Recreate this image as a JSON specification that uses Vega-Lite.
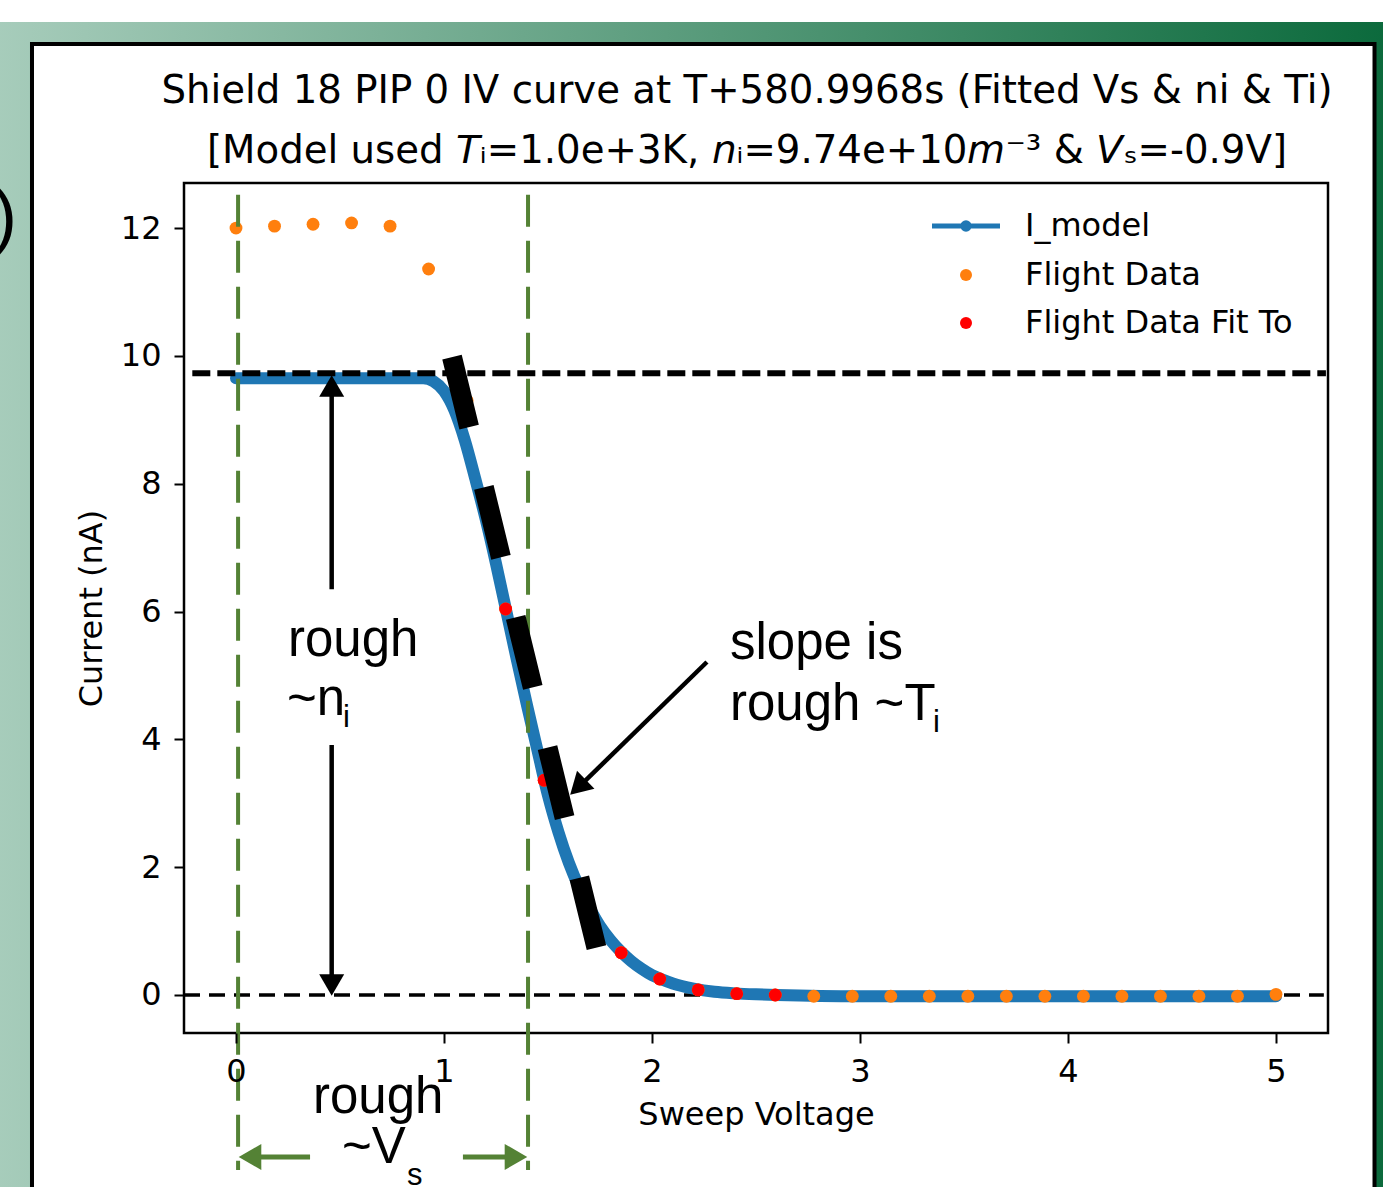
{
  "$schema": "https://vega.github.io/schema/vega-lite/v6.json",
  "width": 1144,
  "height": 850,
  "autosize": {"type": "none"},
  "padding": {"left": 184, "top": 183, "right": 55, "bottom": 154},
  "background": "white",
  "config": {"view": {"stroke": null}, "font": "DejaVu Sans"},
  "title": {
    "text": ["Shield 18 PIP 0 IV curve at T+580.9968s (Fitted Vs & ni & Ti)", "[Model used 𝘛ᵢ=1.0e+3K, 𝘯ᵢ=9.74e+10𝘮⁻³ & 𝘝ₛ=-0.9V]"],
    "font": "DejaVu Sans",
    "fontSize": 38.7,
    "fontWeight": "normal",
    "color": "black",
    "lineHeight": 60,
    "offset": -149,
    "dx": -9,
    "anchor": "middle",
    "frame": "group",
    "zindex": 1
  },
  "datasets": {
    "frame": [{"x": -1.2, "x2": 5.6, "y": 15.224, "y2": -3.3}],
    "box": [{"x": -0.9808, "x2": 5.4736, "y": 14.88, "y2": -3.5}],
    "plotbox": [{"x": -0.25, "x2": 5.25, "y": -0.595, "y2": 12.705}],
    "paren": [{"x": -1.1106, "y": 12.157, "text": ")"}],
    "model": [
      {"x": 0, "y": 9.65, "series": "I_model"}, {"x": 0.5, "y": 9.65, "series": "I_model"},
      {"x": 0.9, "y": 9.65, "series": "I_model"}, {"x": 0.95, "y": 9.6, "series": "I_model"},
      {"x": 1.0, "y": 9.45, "series": "I_model"}, {"x": 1.05, "y": 9.15, "series": "I_model"},
      {"x": 1.1, "y": 8.68, "series": "I_model"}, {"x": 1.15, "y": 8.08, "series": "I_model"},
      {"x": 1.2, "y": 7.45, "series": "I_model"}, {"x": 1.25, "y": 6.75, "series": "I_model"},
      {"x": 1.3, "y": 6.0, "series": "I_model"}, {"x": 1.35, "y": 5.25, "series": "I_model"},
      {"x": 1.4, "y": 4.52, "series": "I_model"}, {"x": 1.45, "y": 3.82, "series": "I_model"},
      {"x": 1.5, "y": 3.12, "series": "I_model"}, {"x": 1.55, "y": 2.55, "series": "I_model"},
      {"x": 1.6, "y": 2.07, "series": "I_model"}, {"x": 1.65, "y": 1.68, "series": "I_model"},
      {"x": 1.7, "y": 1.36, "series": "I_model"}, {"x": 1.75, "y": 1.08, "series": "I_model"},
      {"x": 1.8, "y": 0.86, "series": "I_model"}, {"x": 1.85, "y": 0.68, "series": "I_model"},
      {"x": 1.9, "y": 0.53, "series": "I_model"}, {"x": 1.95, "y": 0.41, "series": "I_model"},
      {"x": 2.0, "y": 0.31, "series": "I_model"}, {"x": 2.05, "y": 0.24, "series": "I_model"},
      {"x": 2.1, "y": 0.18, "series": "I_model"}, {"x": 2.2, "y": 0.1, "series": "I_model"},
      {"x": 2.3, "y": 0.05, "series": "I_model"}, {"x": 2.4, "y": 0.025, "series": "I_model"},
      {"x": 2.5, "y": 0.01, "series": "I_model"}, {"x": 2.6, "y": 0.0, "series": "I_model"},
      {"x": 3.0, "y": -0.02, "series": "I_model"}, {"x": 4.0, "y": -0.02, "series": "I_model"},
      {"x": 5.0, "y": -0.02, "series": "I_model"}
    ],
    "flight": [
      {"x": 0.0, "y": 12.0, "series": "Flight Data"},
      {"x": 0.1852, "y": 12.03, "series": "Flight Data"},
      {"x": 0.3704, "y": 12.06, "series": "Flight Data"},
      {"x": 0.5556, "y": 12.08, "series": "Flight Data"},
      {"x": 0.7407, "y": 12.03, "series": "Flight Data"},
      {"x": 0.9259, "y": 11.36, "series": "Flight Data"},
      {"x": 1.1111, "y": 9.3, "series": "Flight Data"},
      {"x": 1.2963, "y": 6.04, "series": "Flight Data"},
      {"x": 1.4815, "y": 3.36, "series": "Flight Data"},
      {"x": 1.6667, "y": 1.55, "series": "Flight Data"},
      {"x": 1.8519, "y": 0.66, "series": "Flight Data"},
      {"x": 2.037, "y": 0.25, "series": "Flight Data"},
      {"x": 2.2222, "y": 0.08, "series": "Flight Data"},
      {"x": 2.4074, "y": 0.02, "series": "Flight Data"},
      {"x": 2.5926, "y": 0.0, "series": "Flight Data"},
      {"x": 2.7778, "y": -0.02, "series": "Flight Data"},
      {"x": 2.963, "y": -0.02, "series": "Flight Data"},
      {"x": 3.1481, "y": -0.02, "series": "Flight Data"},
      {"x": 3.3333, "y": -0.02, "series": "Flight Data"},
      {"x": 3.5185, "y": -0.02, "series": "Flight Data"},
      {"x": 3.7037, "y": -0.02, "series": "Flight Data"},
      {"x": 3.8889, "y": -0.02, "series": "Flight Data"},
      {"x": 4.0741, "y": -0.02, "series": "Flight Data"},
      {"x": 4.2593, "y": -0.02, "series": "Flight Data"},
      {"x": 4.4444, "y": -0.02, "series": "Flight Data"},
      {"x": 4.6296, "y": -0.02, "series": "Flight Data"},
      {"x": 4.8148, "y": -0.02, "series": "Flight Data"},
      {"x": 5.0, "y": 0.01, "series": "Flight Data"},
      {"x": 1.2963, "y": 6.04, "series": "Flight Data Fit To"},
      {"x": 1.4815, "y": 3.36, "series": "Flight Data Fit To"},
      {"x": 1.6667, "y": 1.55, "series": "Flight Data Fit To"},
      {"x": 1.8519, "y": 0.66, "series": "Flight Data Fit To"},
      {"x": 2.037, "y": 0.25, "series": "Flight Data Fit To"},
      {"x": 2.2222, "y": 0.08, "series": "Flight Data Fit To"},
      {"x": 2.4074, "y": 0.02, "series": "Flight Data Fit To"},
      {"x": 2.5926, "y": 0.0, "series": "Flight Data Fit To"}
    ],
    "hline_top": [{"x": -0.21, "x2": 5.24, "y": 9.73}],
    "hline_zero": [{"x": -0.25, "x2": 5.23, "y": 0}],
    "green_v": [{"x": 0.01, "y": 12.52, "y2": -2.74}, {"x": 1.404, "y": 12.52, "y2": -2.74}],
    "green_shafts": [{"x": 0.356, "x2": 0.07, "y": -2.535}, {"x": 1.091, "x2": 1.34, "y": -2.535}],
    "green_heads": [{"x": 0.0673, "y": -2.535, "dir": "left"}, {"x": 1.346, "y": -2.535, "dir": "right"}],
    "black_shafts": [
      {"x": 0.46, "y": 6.35, "x2": 0.46, "y2": 9.5},
      {"x": 0.46, "y": 3.91, "x2": 0.46, "y2": 0.2},
      {"x": 2.264, "y": 5.21, "x2": 1.65, "y2": 3.26}
    ],
    "black_heads": [
      {"x": 0.46, "y": 9.529, "angle": 0},
      {"x": 0.46, "y": 0.156, "angle": 180},
      {"x": 1.644, "y": 3.25, "angle": 225.9}
    ],
    "slope": [{"x": 1.0385, "y": 9.98, "x2": 1.7356, "y2": 0.704}],
    "notes": [
      {"x": 0.25, "y": 5.3, "text": "rough"},
      {"x": 0.2452, "y": 4.38, "text": "~n"},
      {"x": 2.375, "y": 5.26, "text": "slope is"},
      {"x": 2.375, "y": 4.3, "text": "rough ~T"},
      {"x": 0.37, "y": -1.846, "text": "rough"},
      {"x": 0.5096, "y": -2.628, "text": "~V"}
    ],
    "subs": [
      {"x": 0.514, "y": 4.19, "text": "i"},
      {"x": 3.351, "y": 4.11, "text": "i"},
      {"x": 0.822, "y": -2.972, "text": "s"}
    ]
  },
  "encoding": {
    "x": {
      "field": "x", "type": "quantitative", "title": "Sweep Voltage",
      "scale": {"domain": [-0.25, 5.25], "nice": false, "zero": false},
      "axis": {
        "values": [0, 1, 2, 3, 4, 5], "format": "d", "grid": false, "domain": false,
        "labelFont": "DejaVu Sans", "labelFontSize": 32, "labelColor": "black",
        "titleFont": "DejaVu Sans", "titleFontSize": 32, "titleFontWeight": "normal", "titleColor": "black",
        "tickColor": "black", "tickSize": 10, "tickWidth": 2, "labelPadding": 13, "titlePadding": 12, "zindex": 1
      }
    },
    "y": {
      "field": "y", "type": "quantitative", "title": "Current (nA)",
      "scale": {"domain": [-0.595, 12.705], "nice": false, "zero": false},
      "axis": {
        "values": [0, 2, 4, 6, 8, 10, 12], "format": "d", "grid": false, "domain": false,
        "labelFont": "DejaVu Sans", "labelFontSize": 32, "labelColor": "black",
        "titleFont": "DejaVu Sans", "titleFontSize": 32, "titleFontWeight": "normal", "titleColor": "black",
        "tickColor": "black", "tickSize": 10, "tickWidth": 2, "labelPadding": 13, "titlePadding": 12, "zindex": 1
      }
    }
  },
  "layer": [
    {
      "data": {"name": "frame"},
      "mark": {"type": "rect", "fill": {"gradient": "linear", "x1": 0, "y1": 0, "x2": 1, "y2": 0, "stops": [{"offset": 0, "color": "#a8cdbc"}, {"offset": 1, "color": "#0a693b"}]}},
      "encoding": {"x2": {"field": "x2"}, "y2": {"field": "y2"}}
    },
    {
      "data": {"name": "paren"},
      "mark": {"type": "text", "font": "Liberation Sans", "fontSize": 72, "align": "center", "baseline": "middle", "color": "black"},
      "encoding": {"text": {"field": "text"}}
    },
    {
      "data": {"name": "box"},
      "mark": {"type": "rect", "fill": "white", "stroke": "black", "strokeWidth": 4},
      "encoding": {"x2": {"field": "x2"}, "y2": {"field": "y2"}}
    },
    {
      "data": {"name": "plotbox"},
      "mark": {"type": "rect", "fill": null, "fillOpacity": 0, "stroke": "black", "strokeWidth": 2.5},
      "encoding": {"x2": {"field": "x2"}, "y2": {"field": "y2"}}
    },
    {
      "data": {"name": "hline_zero"},
      "mark": {"type": "rule", "color": "black", "strokeWidth": 3.5, "strokeDash": [16, 9]},
      "encoding": {"x2": {"field": "x2"}}
    },
    {
      "data": {"name": "model"},
      "mark": {"type": "line", "strokeWidth": 12, "strokeCap": "round", "strokeJoin": "round", "interpolate": "monotone"},
      "encoding": {
        "stroke": {
          "field": "series", "type": "nominal",
          "scale": {"domain": ["I_model"], "range": ["#1f77b4"]},
          "legend": {
            "title": null, "orient": "none", "legendX": 745.5, "legendY": 6.5, "padding": 0,
            "symbolType": "M-1,0H1M-0.094,0A0.094,0.094 0 1,0 0.094,0A0.094,0.094 0 1,0 -0.094,0",
            "symbolSize": 4624, "symbolStrokeWidth": 5, "symbolOffset": 0, "labelOffset": 22.5, "labelLimit": 0,
            "labelFont": "DejaVu Sans", "labelFontSize": 32, "labelColor": "black", "zindex": 1
          }
        }
      }
    },
    {
      "data": {"name": "flight"},
      "mark": {"type": "circle", "size": 165, "opacity": 1},
      "encoding": {
        "color": {
          "field": "series", "type": "nominal",
          "scale": {"domain": ["Flight Data", "Flight Data Fit To"], "range": ["#ff7f0e", "#ff0000"]},
          "legend": {
            "title": null, "orient": "none", "legendX": 766, "legendY": 76, "padding": 0,
            "symbolType": "circle", "symbolSize": 144, "symbolOffset": 0, "labelOffset": 43, "rowPadding": 16, "labelLimit": 0,
            "labelFont": "DejaVu Sans", "labelFontSize": 32, "labelColor": "black", "zindex": 1,
            "symbolStrokeWidth": 0
          }
        }
      }
    },
    {
      "data": {"name": "hline_top"},
      "mark": {"type": "rule", "color": "black", "strokeWidth": 6, "strokeDash": [18, 7]},
      "encoding": {"x2": {"field": "x2"}}
    },
    {
      "data": {"name": "green_v"},
      "mark": {"type": "rule", "color": "#548235", "strokeWidth": 4, "strokeDash": [32, 14]},
      "encoding": {"y2": {"field": "y2"}}
    },
    {
      "data": {"name": "green_shafts"},
      "mark": {"type": "rule", "color": "#548235", "strokeWidth": 5},
      "encoding": {"x2": {"field": "x2"}}
    },
    {
      "data": {"name": "green_heads"},
      "mark": {"type": "point", "filled": true, "size": 680, "opacity": 1, "color": "#548235"},
      "encoding": {"shape": {"field": "dir", "type": "nominal", "scale": {"domain": ["left", "right"], "range": ["triangle-left", "triangle-right"]}, "legend": null}}
    },
    {
      "data": {"name": "slope"},
      "mark": {"type": "rule", "color": "black", "strokeWidth": 20, "strokeDash": [72, 62], "strokeCap": "butt"},
      "encoding": {"x2": {"field": "x2"}, "y2": {"field": "y2"}}
    },
    {
      "data": {"name": "black_shafts"},
      "mark": {"type": "rule", "color": "black", "strokeWidth": 4.5},
      "encoding": {"x2": {"field": "x2"}, "y2": {"field": "y2"}}
    },
    {
      "data": {"name": "black_heads"},
      "mark": {"type": "point", "filled": true, "shape": "triangle-up", "size": 625, "opacity": 1, "color": "black"},
      "encoding": {"angle": {"field": "angle", "type": "quantitative", "scale": null}}
    },
    {
      "data": {"name": "notes"},
      "mark": {"type": "text", "font": "Liberation Sans", "fontSize": 51, "align": "left", "baseline": "alphabetic", "color": "black"},
      "encoding": {"text": {"field": "text"}}
    },
    {
      "data": {"name": "subs"},
      "mark": {"type": "text", "font": "Liberation Sans", "fontSize": 31, "align": "left", "baseline": "alphabetic", "color": "black"},
      "encoding": {"text": {"field": "text"}}
    }
  ]
}
